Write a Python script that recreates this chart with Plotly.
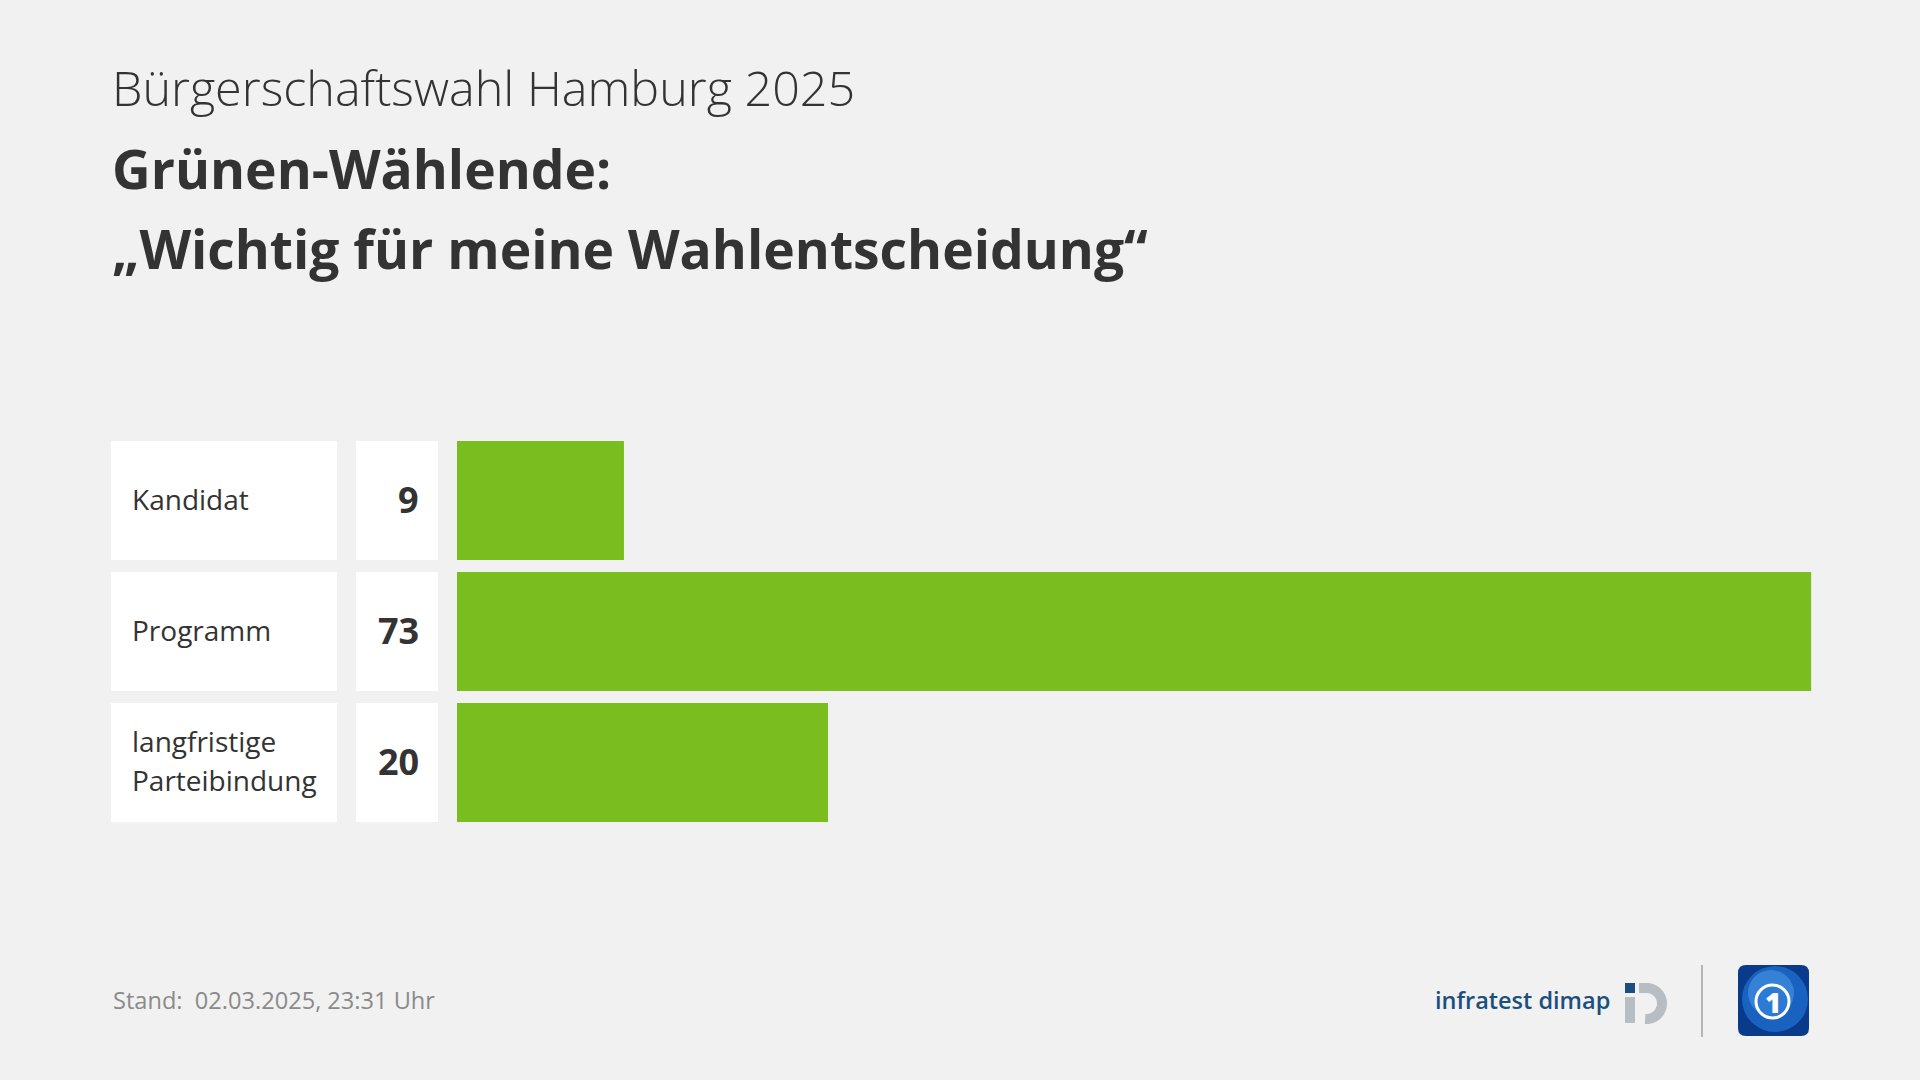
import math
import plotly.graph_objects as go

W, H = 1920, 1080

# ---------------- data ----------------
categories = ["Kandidat", "Programm", "langfristige<br>Parteibindung"]
values = [9, 73, 20]
value_labels = ["9", "73", "20"]

subtitle = "Bürgerschaftswahl Hamburg 2025"
title_line1 = "Grünen-Wählende:"
title_line2 = "„Wichtig für meine Wahlentscheidung“"
footer = "Stand:\u00a0 02.03.2025, 23:31 Uhr"
brand = "infratest dimap"

# ---------------- style ----------------
FONT = "Open Sans, Noto Sans, sans-serif"
BG = "#f1f1f1"
TEXT = "#333333"
GREEN = "#7abd1e"
GRAY_TEXT = "#8a8a8a"
BRAND_BLUE = "#1c4f7e"
LOGO_GRAY = "#b6bdc3"


def px(x):
    return x / W


def py(y):
    return 1 - y / H


# pixel layout
BAR_LEFT = 457
PX_PER_UNIT = 18.55
ROW_TOP, ROW_BOTTOM = 435, 828
ROW_PITCH = (ROW_BOTTOM - ROW_TOP) / len(categories)
BAR_GAP = 12 / ROW_PITCH
LABEL_LINE = 39

fig = go.Figure()

# white label boxes
fig.add_trace(go.Bar(x=[1] * len(categories), y=categories, orientation="h",
                     xaxis="x2", yaxis="y", marker=dict(color="white", line=dict(width=0)),
                     hoverinfo="skip", showlegend=False))
# white value boxes
fig.add_trace(go.Bar(x=[1] * len(categories), y=categories, orientation="h",
                     xaxis="x3", yaxis="y", marker=dict(color="white", line=dict(width=0)),
                     hoverinfo="skip", showlegend=False))
# green bars
fig.add_trace(go.Bar(x=values, y=categories, orientation="h",
                     xaxis="x", yaxis="y", marker=dict(color=GREEN, line=dict(width=0)),
                     hovertemplate="%{x}<extra></extra>", showlegend=False))

annotations = []
for cat, vl in zip(categories, value_labels):
    lines = cat.split("<br>")
    n = len(lines)
    for i, ln in enumerate(lines):
        shift = ((n - 1) / 2 - i) * LABEL_LINE + 2
        annotations.append(dict(xref="paper", yref="y", x=px(130), y=cat, text=ln, yshift=shift,
                                xanchor="left", yanchor="middle", align="left", showarrow=False,
                                font=dict(family=FONT, size=28, color=TEXT)))
    annotations.append(dict(xref="paper", yref="y", x=px(421), y=cat, text=vl, yshift=1,
                            xanchor="right", yanchor="middle", align="right", showarrow=False,
                            font=dict(family=FONT, size=36, color=TEXT, weight=700)))

annotations += [
    dict(xref="paper", yref="paper", x=px(110), y=py(87), text=subtitle, xanchor="left",
         yanchor="middle", showarrow=False, font=dict(family=FONT, size=48.5, color=TEXT, weight=300)),
    dict(xref="paper", yref="paper", x=px(110), y=py(169), text=title_line1, xanchor="left",
         yanchor="middle", showarrow=False, font=dict(family=FONT, size=53.4, color=TEXT, weight=700)),
    dict(xref="paper", yref="paper", x=px(110), y=py(248), text=title_line2, xanchor="left",
         yanchor="middle", showarrow=False, font=dict(family=FONT, size=53.4, color=TEXT, weight=700)),
    dict(xref="paper", yref="paper", x=px(111), y=py(1000), text=footer, xanchor="left",
         yanchor="middle", showarrow=False, font=dict(family=FONT, size=23.6, color=GRAY_TEXT)),
    dict(xref="paper", yref="paper", x=px(1612), y=py(1000), text=brand, xanchor="right",
         yanchor="middle", showarrow=False, font=dict(family=FONT, size=23.5, color=BRAND_BLUE, weight=600)),
    dict(xref="paper", yref="paper", x=px(1773), y=py(1002), text="1", xanchor="center",
         yanchor="middle", showarrow=False, font=dict(family=FONT, size=28, color="white", weight=800)),
]

shapes = []
# separator line
shapes.append(dict(type="line", xref="paper", yref="paper", x0=px(1702), x1=px(1702),
                   y0=py(965), y1=py(1037), line=dict(color="#b5b5b5", width=2)))


def rounded_rect(x0, y0, x1, y1, r):
    p = [
        f"M{px(x0 + r)},{py(y0)}",
        f"L{px(x1 - r)},{py(y0)}",
        f"Q{px(x1)},{py(y0)} {px(x1)},{py(y0 + r)}",
        f"L{px(x1)},{py(y1 - r)}",
        f"Q{px(x1)},{py(y1)} {px(x1 - r)},{py(y1)}",
        f"L{px(x0 + r)},{py(y1)}",
        f"Q{px(x0)},{py(y1)} {px(x0)},{py(y1 - r)}",
        f"L{px(x0)},{py(y0 + r)}",
        f"Q{px(x0)},{py(y0)} {px(x0 + r)},{py(y0)}",
        "Z",
    ]
    return " ".join(p)


# tagesschau-like logo
shapes.append(dict(type="path", xref="paper", yref="paper", path=rounded_rect(1738, 965, 1809, 1036, 8),
                   fillcolor="#0a3a8a", line=dict(width=0)))
shapes.append(dict(type="circle", xref="paper", yref="paper", x0=px(1742), x1=px(1808),
                   y0=py(966), y1=py(1032), fillcolor="#1a62bf", line=dict(width=0)))
shapes.append(dict(type="circle", xref="paper", yref="paper", x0=px(1748), x1=px(1794),
                   y0=py(970), y1=py(1016), fillcolor="#4a9bea", line=dict(width=0), opacity=0.55))
shapes.append(dict(type="circle", xref="paper", yref="paper", x0=px(1756), x1=px(1789),
                   y0=py(985), y1=py(1018), fillcolor="#2b7ad6", line=dict(color="white", width=3)))

# infratest dimap mark
shapes.append(dict(type="rect", xref="paper", yref="paper", x0=px(1625), x1=px(1635),
                   y0=py(983), y1=py(993), fillcolor=BRAND_BLUE, line=dict(width=0)))
shapes.append(dict(type="rect", xref="paper", yref="paper", x0=px(1625), x1=px(1635),
                   y0=py(997), y1=py(1023), fillcolor=LOGO_GRAY, line=dict(width=0)))
cx, cy, rr = 1646.5, 1003.5, 15.5
pts = [(1639, cy - rr)]
for i in range(41):
    a = math.radians(90 - i * (90 + 95) / 40)
    pts.append((cx + rr * math.cos(a), cy - rr * math.sin(a)))
arc = "M" + " L".join(f"{px(x)},{py(y)}" for x, y in pts)
shapes.append(dict(type="path", xref="paper", yref="paper", path=arc,
                   line=dict(color=LOGO_GRAY, width=10)))

axis_off = dict(visible=False, showgrid=False, zeroline=False, fixedrange=True)

fig.update_layout(
    width=W, height=H,
    margin=dict(l=0, r=0, t=0, b=0),
    paper_bgcolor=BG, plot_bgcolor=BG,
    barmode="overlay", bargap=BAR_GAP,
    font=dict(family=FONT, color=TEXT),
    xaxis=dict(domain=[px(BAR_LEFT), 1], range=[0, (W - BAR_LEFT) / PX_PER_UNIT], **axis_off),
    xaxis2=dict(domain=[px(111), px(337)], range=[0, 1], **axis_off),
    xaxis3=dict(domain=[px(356), px(438)], range=[0, 1], **axis_off),
    yaxis=dict(domain=[py(ROW_BOTTOM), py(ROW_TOP)], type="category",
               categoryorder="array", categoryarray=categories, autorange="reversed", **axis_off),
    annotations=annotations,
    shapes=shapes,
    showlegend=False,
)

fig.write_html("out.html", config={"displayModeBar": False},
               post_script="document.body.style.margin='0px';document.body.style.background='%s';" % BG)
